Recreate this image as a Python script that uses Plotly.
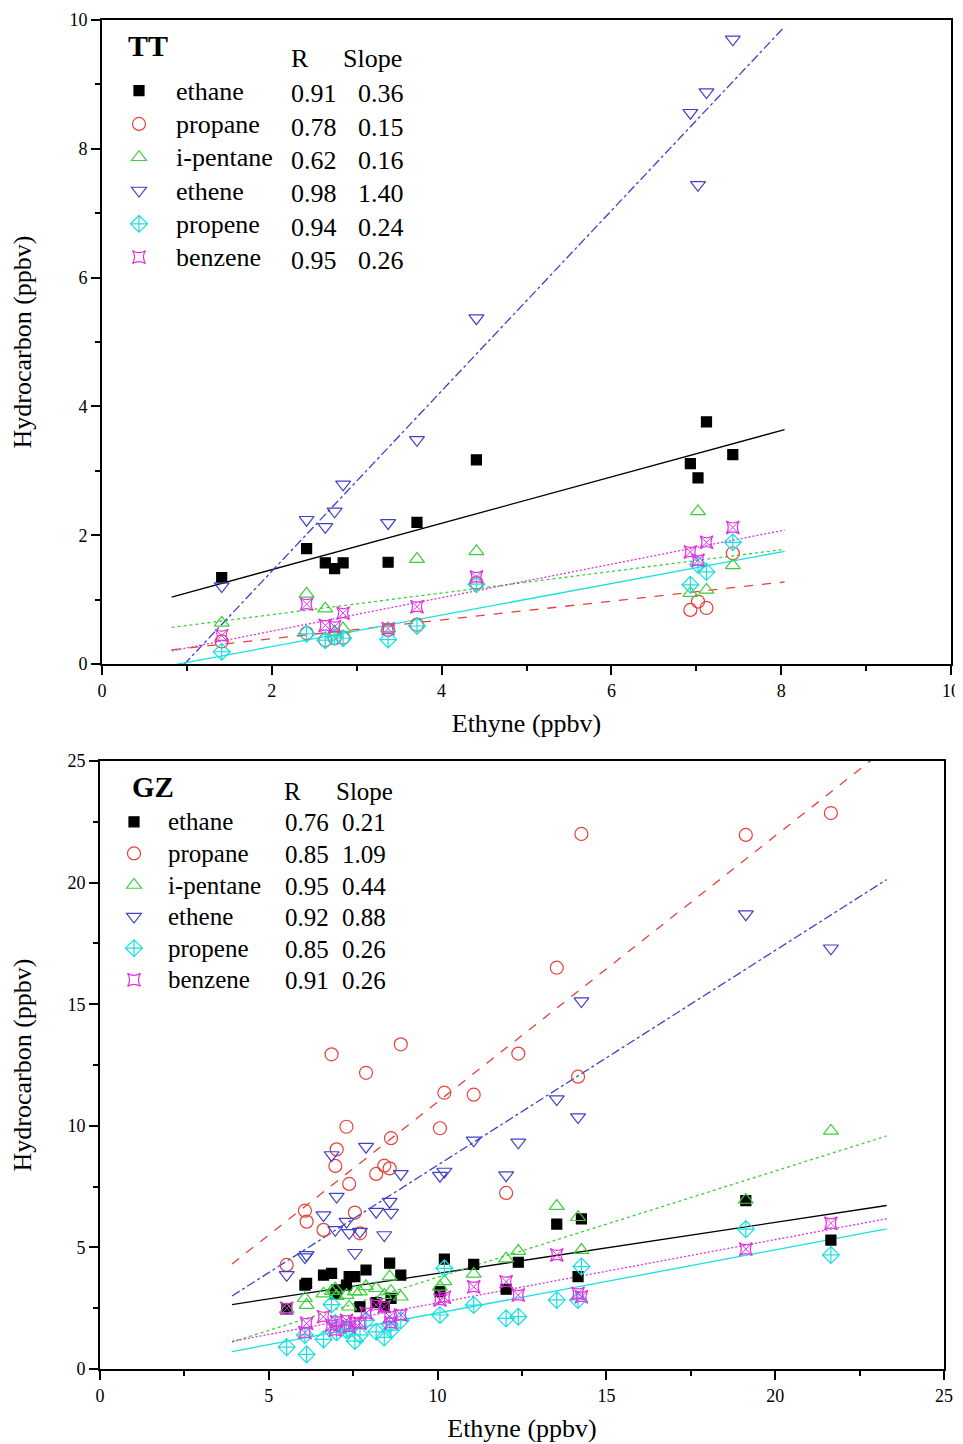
import plotly.graph_objects as go

# page body has an 8px margin: positions below are given in screen pixels
OFF = 8
W, H = 955, 1436
FONT = "Liberation Serif"

species = ["ethane", "propane", "i-pentane", "ethene", "propene", "benzene"]
colors = ["#000000", "#e8403a", "#3ccf3c", "#4040c8", "#18e0e0", "#e030e0"]
symbols = ["square", "circle-open", "triangle-up-open", "triangle-down-open",
           "diamond-cross-open", "star-diamond-open"]
dashes = ["solid", "dash", "dot", "dashdot", "solid", "2px,2px"]

# ---------------- TT (top panel) ----------------
tt_ethyne = [1.41, 2.41, 2.63, 2.74, 2.84, 3.37, 3.71, 4.41, 6.93, 7.02, 7.12, 7.43]
tt_ethane = [1.34, 1.79, 1.57, 1.48, 1.57, 1.58, 2.20, 3.17, 3.11, 2.89, 3.76, 3.25]
tt_propane = [0.35, 0.48, 0.37, 0.40, 0.41, 0.53, 0.61, 1.26, 0.84, 0.97, 0.87, 1.72]
tt_ipentane = [0.64, 1.09, 0.86, 0.50, 0.55, 0.55, 1.63, 1.75, 1.10, 2.37, 1.15, 1.53]
tt_ethene = [1.21, 2.24, 2.13, 2.37, 2.79, 2.19, 3.48, 5.37, 8.56, 7.44, 8.88, 9.70]
tt_propene = [0.19, 0.47, 0.37, 0.42, 0.40, 0.38, 0.59, 1.24, 1.23, 1.54, 1.43, 1.89]
tt_benzene = [0.44, 0.93, 0.60, 0.58, 0.79, 0.55, 0.89, 1.35, 1.74, 1.61, 1.89, 2.12]
tt_R = ["0.91", "0.78", "0.62", "0.98", "0.94", "0.95"]
tt_slope_lbl = ["0.36", "0.15", "0.16", "1.40", "0.24", "0.26"]
tt_fit_slope = [0.36, 0.146, 0.168, 1.40, 0.245, 0.26]
tt_fit_icpt = [0.745, 0.10, 0.43, -1.36, -0.22, -0.01]
tt_fit_x = [0.82, 8.04]

# ---------------- GZ (bottom panel) ----------------
gz_ethyne = [5.53, 6.07, 6.12, 6.62, 6.86, 6.97, 7.01, 7.30, 7.38, 7.55, 7.70, 7.88, 8.18, 8.42,
             8.58, 8.62, 8.91, 10.07, 10.20, 11.07, 12.03, 12.39, 13.53, 14.16, 14.26, 19.13, 21.65]
gz_ethane = [2.47, 3.45, 3.52, 3.86, 3.93, 3.10, 3.25, 3.45, 3.80, 3.80, 2.56, 4.07, 2.73, 2.56,
             4.35, 2.90, 3.86, 3.18, 4.52, 4.30, 3.28, 4.39, 5.96, 3.80, 6.17, 6.92, 5.30]
gz_propane = [4.28, 6.51, 6.06, 5.72, 12.94, 8.35, 9.03, 9.96, 7.61, 6.43, 5.58, 12.18, 8.02, 8.36,
              8.25, 9.49, 13.35, 9.90, 11.36, 11.28, 7.24, 12.97, 16.50, 12.02, 22.00, 21.96, 22.86]
gz_ipentane = [2.45, 2.91, 2.63, 3.10, 3.20, 3.30, 3.00, 3.04, 2.56, 3.18, 3.18, 3.40, 3.32, 3.04,
               3.80, 3.20, 2.97, 3.38, 3.60, 3.91, 4.54, 4.85, 6.70, 6.24, 4.89, 6.95, 9.79]
gz_ethene = [3.87, 4.60, 4.69, 6.33, 8.80, 5.72, 7.09, 6.06, 5.60, 4.78, 5.65, 9.14, 6.47, 5.51,
             6.88, 6.43, 8.02, 7.95, 8.12, 9.40, 7.97, 9.32, 11.10, 10.36, 15.13, 18.70, 17.30]
gz_propene = [0.90, 1.40, 0.60, 1.22, 2.65, 1.90, 1.50, 1.60, 1.65, 1.15, 1.40, 2.00, 1.53, 1.30,
              1.85, 1.60, 2.00, 2.22, 4.14, 2.63, 2.08, 2.15, 2.84, 2.84, 4.21, 5.75, 4.69]
gz_benzene = [2.50, 1.50, 1.88, 2.15, 1.80, 1.60, 1.95, 2.00, 1.74, 1.90, 1.88, 2.30, 2.63, 2.56,
              2.15, 1.90, 2.22, 2.84, 2.95, 3.38, 3.59, 3.04, 4.69, 3.11, 2.97, 4.93, 5.99]
gz_R = ["0.76", "0.85", "0.95", "0.92", "0.85", "0.91"]
gz_slope_lbl = ["0.21", "1.09", "0.44", "0.88", "0.26", "0.26"]
gz_fit_slope = [0.21, 1.094, 0.437, 0.883, 0.26, 0.26]
gz_fit_icpt = [1.83, 0.04, -0.60, -0.45, -0.30, 0.12]
gz_fit_x = [3.91, 23.3]

tt_series = [tt_ethane, tt_propane, tt_ipentane, tt_ethene, tt_propene, tt_benzene]
gz_series = [gz_ethane, gz_propane, gz_ipentane, gz_ethene, gz_propene, gz_benzene]

fig = go.Figure()


def add_panel(xv, series, slopes, icpts, fitx, xa, ya, legend, name_size):
    # fit lines first (beneath markers)
    for i in range(6):
        fy = [icpts[i] + slopes[i] * x for x in fitx]
        fig.add_trace(go.Scatter(
            x=fitx, y=fy, mode="lines", xaxis=xa, yaxis=ya, showlegend=False,
            line=dict(color=colors[i], width=1.3, dash=dashes[i]), hoverinfo="skip"))
    for i in range(6):
        size = 10 if i == 0 else 13
        marker = dict(symbol=symbols[i], size=size, color=colors[i],
                      line=dict(color=colors[i], width=1.2))
        if i == 5:
            marker["angle"] = 45
        fig.add_trace(go.Scatter(
            x=xv, y=series[i], mode="markers", xaxis=xa, yaxis=ya, legend=legend,
            name="<span style='font-size:%dpx'>%s</span>" % (name_size, species[i]),
            marker=marker))
        if i == 5:
            fig.add_trace(go.Scatter(
                x=xv, y=series[i], mode="markers", xaxis=xa, yaxis=ya, showlegend=False,
                marker=dict(symbol="x-thin-open", size=12, color=colors[i],
                            line=dict(color=colors[i], width=1.0))))


add_panel(tt_ethyne, tt_series, tt_fit_slope, tt_fit_icpt, tt_fit_x, "x", "y", "legend", 26)
add_panel(gz_ethyne, gz_series, gz_fit_slope, gz_fit_icpt, gz_fit_x, "x2", "y2", "legend2", 25)

axis_common = dict(showline=True, linecolor="black", linewidth=1.8, mirror=True,
                   ticks="outside", ticklen=9, tickwidth=1.6, tickcolor="black",
                   showgrid=False, zeroline=False, automargin=False,
                   tickfont=dict(family=FONT, size=18, color="black"))


def px2paper_x(p):
    return (p - OFF) / W


def px2paper_y(p):
    return 1 - (p - OFF) / H


layout = dict(
    width=W, height=H, margin=dict(l=0, r=0, t=0, b=0, pad=0), autosize=False,
    paper_bgcolor="white", plot_bgcolor="white",
    font=dict(family=FONT, color="black"),
    xaxis=dict(domain=[px2paper_x(102), px2paper_x(951)], range=[0, 10], dtick=2,
               minor=dict(dtick=1, ticks="outside", ticklen=5, tickcolor="black"),
               anchor="y",
               title=dict(text="Ethyne (ppbv)", font=dict(family=FONT, size=26), standoff=14),
               **axis_common),
    yaxis=dict(domain=[px2paper_y(664), px2paper_y(20)], range=[0, 10], dtick=2,
               minor=dict(dtick=1, ticks="outside", ticklen=5, tickcolor="black"),
               anchor="x",
               title=dict(text="Hydrocarbon (ppbv)", font=dict(family=FONT, size=26), standoff=33),
               **axis_common),
    xaxis2=dict(domain=[px2paper_x(100), px2paper_x(944)], range=[0, 25], dtick=5,
                minor=dict(dtick=2.5, ticks="outside", ticklen=5, tickcolor="black"),
                anchor="y2",
                title=dict(text="Ethyne (ppbv)", font=dict(family=FONT, size=26), standoff=14),
                **axis_common),
    yaxis2=dict(domain=[px2paper_y(1369), px2paper_y(761)], range=[0, 25], dtick=5,
                minor=dict(dtick=2.5, ticks="outside", ticklen=5, tickcolor="black"),
                anchor="x2",
                title=dict(text="Hydrocarbon (ppbv)", font=dict(family=FONT, size=26), standoff=31),
                **axis_common),
    legend=dict(x=px2paper_x(102), y=px2paper_y(69), xanchor="left", yanchor="top",
                bgcolor="rgba(0,0,0,0)", borderwidth=0, itemwidth=64,
                font=dict(family=FONT, size=23.3, color="black"), tracegroupgap=0),
    legend2=dict(x=px2paper_x(100), y=px2paper_y(801), xanchor="left", yanchor="top",
                 bgcolor="rgba(0,0,0,0)", borderwidth=0, itemwidth=58,
                 font=dict(family=FONT, size=22, color="black"), tracegroupgap=0),
    showlegend=True,
)

annotations = []
# titles of panels
annotations.append(dict(text="<b>TT</b>", x=px2paper_x(126), y=px2paper_y(45), xref="paper", yref="paper",
                        xanchor="left", yanchor="middle", showarrow=False,
                        font=dict(family=FONT, size=30, color="black")))
annotations.append(dict(text="<b>GZ</b>", x=px2paper_x(130), y=px2paper_y(787), xref="paper", yref="paper",
                        xanchor="left", yanchor="middle", showarrow=False,
                        font=dict(family=FONT, size=29, color="black")))
# headers
for (txt, xp, yp, anc, sz) in [("R", 289, 58, "left", 26), ("Slope", 404, 58, "right", 26),
                               ("R", 282, 791, "left", 25), ("Slope", 395, 791, "right", 25)]:
    annotations.append(dict(text=txt, x=px2paper_x(xp), y=px2paper_y(yp), xref="paper", yref="paper",
                            xanchor=anc, yanchor="middle", showarrow=False,
                            font=dict(family=FONT, size=sz, color="black")))
tt_rows = [94, 127.3, 160.6, 193.9, 227.2, 260.5]
gz_rows = [822, 854, 886, 917, 949, 980]
for i in range(6):
    annotations.append(dict(text=tt_R[i], x=px2paper_x(289), y=px2paper_y(tt_rows[i]), xref="paper",
                            yref="paper", xanchor="left", yanchor="middle", showarrow=False,
                            font=dict(family=FONT, size=26, color="black")))
    annotations.append(dict(text=tt_slope_lbl[i], x=px2paper_x(406), y=px2paper_y(tt_rows[i]), xref="paper",
                            yref="paper", xanchor="right", yanchor="middle", showarrow=False,
                            font=dict(family=FONT, size=26, color="black")))
    annotations.append(dict(text=gz_R[i], x=px2paper_x(283), y=px2paper_y(gz_rows[i]), xref="paper",
                            yref="paper", xanchor="left", yanchor="middle", showarrow=False,
                            font=dict(family=FONT, size=25, color="black")))
    annotations.append(dict(text=gz_slope_lbl[i], x=px2paper_x(388), y=px2paper_y(gz_rows[i]), xref="paper",
                            yref="paper", xanchor="right", yanchor="middle", showarrow=False,
                            font=dict(family=FONT, size=25, color="black")))
layout["annotations"] = annotations

fig.update_layout(**layout)
fig.write_html("out.html")
